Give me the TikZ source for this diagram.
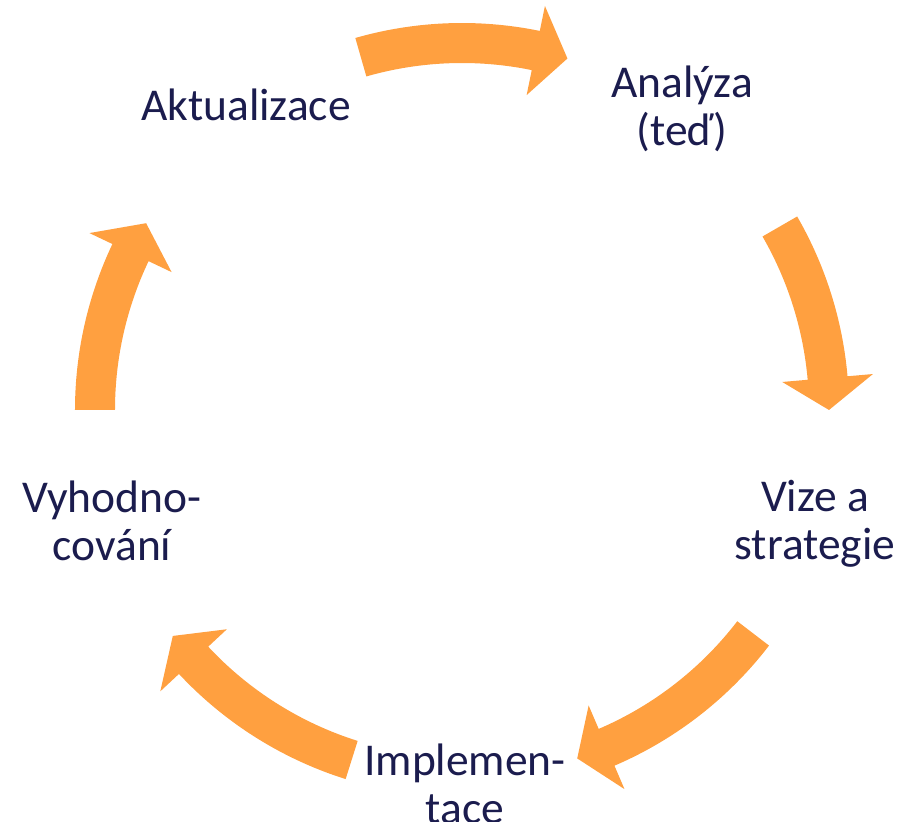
\documentclass[tikz,border=0pt]{standalone}
\usepackage{fontspec}
\setmainfont{Carlito}
\definecolor{arroworange}{HTML}{FFA040}
\definecolor{labelnavy}{HTML}{1B1C4E}
\newcommand{\steplabelfont}{\fontsize{45.5}{48}\selectfont}

\begin{document}
\begin{tikzpicture}[x=1pt,y=1pt,
	cyclearrow/.style={fill=arroworange},
	steplabel/.style={text=labelnavy,align=center,font=\steplabelfont}]
	\def\r{367} %radius of the cycle
	\def\w{20} %half width of arrow body
	\def\h{45.5} %half width of arrowhead
	\useasboundingbox (-462,-412) rectangle (444,410);
	
	%ARROWS
	\fill[cyclearrow] (106:{\r+\w}) arc[start angle=106,end angle=78.4,radius={\r+\w}] -- (78.4:{\r+\h}) -- (73.3:\r) -- (78.4:{\r-\h}) -- (78.4:{\r-\w}) arc[start angle=78.4,end angle=106,radius={\r-\w}] -- cycle; %top arrow
	\fill[cyclearrow] (30:{\r+\w}) arc[start angle=30,end angle=5,radius={\r+\w}] -- (5:{\r+\h}) -- (0:\r) -- (5:{\r-\h}) -- (5:{\r-\w}) arc[start angle=5,end angle=30,radius={\r-\w}] -- cycle; %right arrow
	\fill[cyclearrow] (-37.5:{\r+\w}) arc[start angle=-37.5,end angle=-66.8,radius={\r+\w}] -- (-66.8:{\r+\h}) -- (-71.7:\r) -- (-66.8:{\r-\h}) -- (-66.8:{\r-\w}) arc[start angle=-66.8,end angle=-37.5,radius={\r-\w}] -- cycle; %bottom right arrow
	\fill[cyclearrow] (-107.5:{\r+\w}) arc[start angle=-107.5,end angle=-137,radius={\r+\w}] -- (-137:{\r+\h}) -- (-142:\r) -- (-137:{\r-\h}) -- (-137:{\r-\w}) arc[start angle=-137,end angle=-107.5,radius={\r-\w}] -- cycle; %bottom left arrow
	\fill[cyclearrow] (180:{\r+\w}) arc[start angle=180,end angle=154.6,radius={\r+\w}] -- (154.6:{\r+\h}) -- (149.4:\r) -- (154.6:{\r-\h}) -- (154.6:{\r-\w}) arc[start angle=154.6,end angle=180,radius={\r-\w}] -- cycle; %left arrow
	
	%LABELS
	\node[steplabel] (analyza) at (220,298) {\strut Analýza\\(teď)\strut};
	\node[steplabel] (vize) at (353,-115.5) {\strut Vize a\\strategie\strut};
	\node[steplabel] (implementace) at (3,-379.5) {\strut Implemen-\\tace\strut};
	\node[steplabel] (vyhodnocovani) at (-350,-117) {\strut Vyhodno-\\cování\strut};
	\node[steplabel] (aktualizace) at (-216,299) {\strut Aktualizace};
\end{tikzpicture}
\end{document}
